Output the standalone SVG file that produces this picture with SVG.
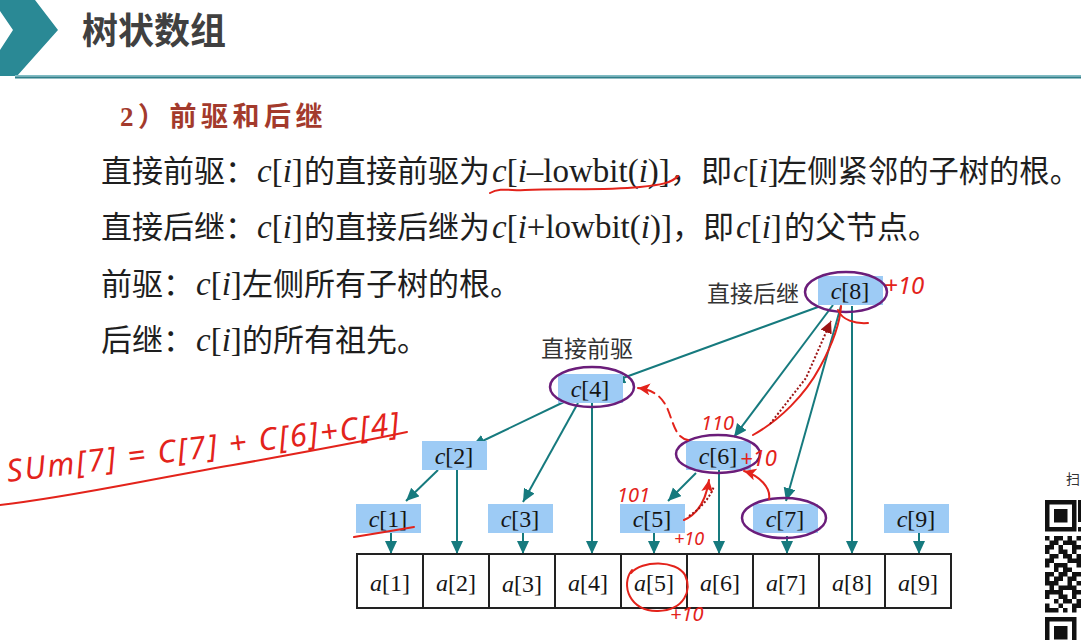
<svg xmlns="http://www.w3.org/2000/svg" width="1081" height="640" viewBox="0 0 1081 640">
  <style>
    .title { font-family: 'Noto Sans CJK SC', sans-serif; font-size: 36px; font-weight: bold; fill: #404040; }
    .sub { font-family: 'Liberation Serif', 'Noto Sans CJK SC', serif; font-size: 27px; font-weight: bold; fill: #a33a2c; letter-spacing: 4.5px; }
    .body { font-family: 'Liberation Serif', 'Noto Sans CJK SC', serif; font-size: 31px; fill: #1e1e1e; }
    .l { font-size: 33px; }
    .it { font-style: italic; }
    .tag { font-family: 'Noto Sans CJK SC', sans-serif; font-size: 23px; fill: #333; }
    .nbox { fill: #9dcbf5; }
    .ring { fill: none; stroke: #6b1d7a; stroke-width: 2.5; }
    .nl { font-family: 'Liberation Serif', serif; font-size: 24px; fill: #151515; text-anchor: middle; }
    .edge { stroke: #167a7e; stroke-width: 2; fill: none; marker-end: url(#ah); }
    .cell { fill: #fff; stroke: #222; stroke-width: 2; }
    .ink { fill: none; stroke: #e3231b; stroke-width: 2; stroke-linecap: round; }
    .inkt { font-family: 'Noto Sans', sans-serif; font-style: italic; fill: #e3231b; }
  </style>
  <defs>
    <marker id="ah" markerUnits="userSpaceOnUse" markerWidth="14" markerHeight="14" refX="13" refY="6" orient="auto">
      <path d="M0,0 L13,6 L0,12 z" fill="#167a7e"/>
    </marker>
    <marker id="rh" markerUnits="userSpaceOnUse" markerWidth="14" markerHeight="14" refX="12" refY="6" orient="auto">
      <path d="M0,0 L12,6 L0,12 L3,6 z" fill="#e3231b"/>
    </marker>
    <marker id="dh" markerUnits="userSpaceOnUse" markerWidth="14" markerHeight="14" refX="12" refY="6" orient="auto">
      <path d="M0,0 L12,6 L0,12 z" fill="#9b1414"/>
    </marker>
  </defs>

  <rect width="1081" height="640" fill="#fff"/>

  <!-- header band -->
  <g id="header">
    <polygon points="0,0 35,0 58,30 17,76 0,76 0,50 13,30 0,11" fill="#2a8995"/>
    <rect x="15" y="75" width="1066" height="1.5" fill="#7fbcc4"/>
    <rect x="15" y="76.5" width="1066" height="2" fill="#2f7f8a"/>
    <text class="title" x="82" y="44">树状数组</text>
  </g>

  <!-- definitions -->
  <g id="definitions">
    <text class="sub" x="120" y="126">2）前驱和后继</text>
    <text class="body" y="182"><tspan x="101">直接前驱：</tspan><tspan x="257" class="l"><tspan class="it">c</tspan>[<tspan class="it">i</tspan>]</tspan><tspan x="304">的直接前驱为</tspan><tspan x="492" class="l"><tspan class="it">c</tspan>[<tspan class="it">i</tspan>–lowbit(<tspan class="it">i</tspan>)]</tspan><tspan x="670">，即</tspan><tspan x="733" class="l"><tspan class="it">c</tspan>[<tspan class="it">i</tspan>]</tspan><tspan x="777" font-size="30.3">左侧紧邻的子树的根。</tspan></text>
    <text class="body" y="238"><tspan x="101">直接后继：</tspan><tspan x="257" class="l"><tspan class="it">c</tspan>[<tspan class="it">i</tspan>]</tspan><tspan x="304">的直接后继为</tspan><tspan x="492" class="l"><tspan class="it">c</tspan>[<tspan class="it">i</tspan>+lowbit(<tspan class="it">i</tspan>)]</tspan><tspan x="672">，即</tspan><tspan x="736" class="l"><tspan class="it">c</tspan>[<tspan class="it">i</tspan>]</tspan><tspan x="784">的父节点。</tspan></text>
    <text class="body" y="295"><tspan x="101">前驱：</tspan><tspan x="196" class="l"><tspan class="it">c</tspan>[<tspan class="it">i</tspan>]</tspan><tspan x="242">左侧所有子树的根。</tspan></text>
    <text class="body" y="351"><tspan x="101">后继：</tspan><tspan x="196" class="l"><tspan class="it">c</tspan>[<tspan class="it">i</tspan>]</tspan><tspan x="242">的所有祖先。</tspan></text>
  </g>

  <!-- tree connectors -->
  <g id="connectors">
    <line class="edge" x1="818" y1="307" x2="612" y2="382"/>
    <line class="edge" x1="833" y1="305" x2="734" y2="437"/>
    <line class="edge" x1="841" y1="306" x2="786" y2="501"/>
    <line class="edge" x1="852" y1="306" x2="852" y2="554"/>
    <line class="edge" x1="566" y1="401" x2="472" y2="446"/>
    <line class="edge" x1="578" y1="403" x2="523" y2="502"/>
    <line class="edge" x1="592" y1="403" x2="592" y2="554"/>
    <line class="edge" x1="438" y1="470" x2="406" y2="501"/>
    <line class="edge" x1="457" y1="470" x2="457" y2="554"/>
    <line class="edge" x1="696" y1="473" x2="668" y2="501"/>
    <line class="edge" x1="719" y1="470" x2="719" y2="554"/>
    <line class="edge" x1="391" y1="533" x2="391" y2="554"/>
    <line class="edge" x1="523" y1="533" x2="523" y2="554"/>
    <line class="edge" x1="654" y1="533" x2="654" y2="554"/>
    <line class="edge" x1="787" y1="536" x2="787" y2="554"/>
    <line class="edge" x1="919" y1="533" x2="919" y2="554"/>
  </g>

  <!-- tree nodes -->
  <g id="node-c8">
    <rect class="nbox" x="818" y="276" width="65" height="29"/>
    <text class="nl" x="850" y="299"><tspan class="it">c</tspan>[8]</text>
    <ellipse class="ring" cx="846" cy="292" rx="41" ry="20"/>
  </g>
  <g id="node-c4">
    <rect class="nbox" x="558" y="374" width="65" height="29"/>
    <text class="nl" x="590" y="397"><tspan class="it">c</tspan>[4]</text>
    <ellipse class="ring" cx="592" cy="387" rx="42" ry="20"/>
  </g>
  <g id="node-c2">
    <rect class="nbox" x="422" y="441" width="65" height="29"/>
    <text class="nl" x="454" y="464"><tspan class="it">c</tspan>[2]</text>
  </g>
  <g id="node-c6">
    <rect class="nbox" x="686" y="441" width="65" height="29"/>
    <text class="nl" x="718" y="464"><tspan class="it">c</tspan>[6]</text>
    <ellipse class="ring" cx="718" cy="454" rx="42" ry="19"/>
  </g>
  <g id="node-c1">
    <rect class="nbox" x="356" y="504" width="65" height="29"/>
    <text class="nl" x="388" y="527"><tspan class="it">c</tspan>[1]</text>
  </g>
  <g id="node-c3">
    <rect class="nbox" x="488" y="504" width="65" height="29"/>
    <text class="nl" x="520" y="527"><tspan class="it">c</tspan>[3]</text>
  </g>
  <g id="node-c5">
    <rect class="nbox" x="620" y="504" width="65" height="29"/>
    <text class="nl" x="652" y="527"><tspan class="it">c</tspan>[5]</text>
  </g>
  <g id="node-c7">
    <rect class="nbox" x="753" y="504" width="65" height="29"/>
    <text class="nl" x="785" y="527"><tspan class="it">c</tspan>[7]</text>
    <ellipse class="ring" cx="784" cy="518" rx="42" ry="20"/>
  </g>
  <g id="node-c9">
    <rect class="nbox" x="884" y="504" width="65" height="29"/>
    <text class="nl" x="916" y="527"><tspan class="it">c</tspan>[9]</text>
  </g>

  <text class="tag" x="707" y="302">直接后继</text>
  <text class="tag" x="541" y="357">直接前驱</text>

  <!-- array a[1..9] -->
  <g id="array">
    <rect class="cell" x="357" y="554" width="594" height="54"/>
    <path d="M423,554v54M489,554v54M555,554v54M621,554v54M687,554v54M753,554v54M819,554v54M885,554v54" stroke="#222" stroke-width="2"/>
    <text class="nl" x="390" y="591"><tspan class="it">a</tspan>[1]</text>
    <text class="nl" x="456" y="591"><tspan class="it">a</tspan>[2]</text>
    <text class="nl" x="522" y="592"><tspan class="it">a</tspan>[3]</text>
    <text class="nl" x="588" y="591"><tspan class="it">a</tspan>[4]</text>
    <text class="nl" x="654" y="591"><tspan class="it">a</tspan>[5]</text>
    <text class="nl" x="720" y="591"><tspan class="it">a</tspan>[6]</text>
    <text class="nl" x="786" y="591"><tspan class="it">a</tspan>[7]</text>
    <text class="nl" x="852" y="591"><tspan class="it">a</tspan>[8]</text>
    <text class="nl" x="918" y="591"><tspan class="it">a</tspan>[9]</text>
  </g>

  <!-- red pen notes -->
  <g id="pen-notes">
    <path class="ink" d="M490,193 C500,187 512,191 525,190 C560,188 600,191 640,187 C660,185 672,183 678,176"/>
    <text class="inkt" x="8" y="482" font-size="31" transform="rotate(-7 8 482)" textLength="395" lengthAdjust="spacing">SUm[7] = C[7] + C[6]+C[4]</text>
    <path class="ink" d="M0,505 C70,497 130,483 233,465 C300,453 360,442 407,432"/>
    <path class="ink" d="M354,537 Q385,532 414,527"/>

    <text class="inkt" x="884" y="294" font-size="24">+10</text>
    <path class="ink" d="M838,310 C842,320 855,324 868,323"/>
    <path class="ink" d="M753,435 C780,420 805,395 820,367 C832,345 840,325 841,306"/>
    <path d="M770,424 L806,378 L831,321" fill="none" stroke="#9b1414" stroke-width="2" stroke-dasharray="2 2" marker-end="url(#dh)"/>

    <path class="ink" d="M688,440 C676,438 674,425 668,410 C663,398 655,390 638,388" stroke-dasharray="9 6" marker-end="url(#rh)"/>
    <text class="inkt" x="701" y="430" font-size="20">110</text>
    <text class="inkt" x="740" y="466" font-size="22">+10</text>

    <path class="ink" d="M769,499 C771,488 760,476 744,471" marker-end="url(#rh)"/>
    <path class="ink" d="M684,520 C698,514 706,500 709,480" marker-end="url(#rh)"/>
    <path d="M689,516 C701,508 710,498 714,486" fill="none" stroke="#9b1414" stroke-width="2" stroke-dasharray="2 2"/>
    <text class="inkt" x="617" y="502" font-size="20">101</text>
    <text class="inkt" x="674" y="545" font-size="18">+10</text>

    <path class="ink" d="M632,570 C620,585 630,612 658,611 C685,610 692,590 685,575 C676,560 642,560 631,573"/>
    <text class="inkt" x="670" y="621" font-size="20">+10</text>
  </g>

  <!-- scan code corner -->
  <g id="qr">
    <text x="1066" y="484" font-family="'Noto Sans CJK SC', sans-serif" font-size="14" fill="#333">扫</text>
    <path fill-rule="evenodd" fill="#111" d="M1045,500h31.5v31.5h-31.5z M1049.5,504.5v22.5h22.5v-22.5z M1054,509h13.5v13.5h-13.5z M1045,617h31.5v31.5h-31.5z M1049.5,621.5v22.5h22.5v-22.5z M1054,626h13.5v13.5h-13.5z"/>
    <path fill="#111" d="M1078,500h3v22h-3z M1078,527h3v4.5h-3z
      M1045,536h4.5v4.5h-4.5z M1054,536h9v4.5h-9z M1067.5,536h4.5v4.5h-4.5z M1076.5,536h4.5v4.5h-4.5z
      M1049.5,540.5h9v4.5h-9z M1063,540.5h13.5v4.5h-13.5z
      M1045,545h9v4.5h-9z M1058.5,545h4.5v4.5h-4.5z M1072,545h9v4.5h-9z
      M1045,549.5h4.5v4.5h-4.5z M1058.5,549.5h9v4.5h-9z M1072,549.5h4.5v4.5h-4.5z
      M1049.5,554h9v4.5h-9z M1063,554h9v4.5h-9z M1076.5,554h4.5v4.5h-4.5z
      M1045,558.5h9v4.5h-9z M1067.5,558.5h13.5v4.5h-13.5z
      M1045,563h4.5v4.5h-4.5z M1054,563h13.5v4.5h-13.5z M1076.5,563h4.5v4.5h-4.5z
      M1054,567.5h4.5v4.5h-4.5z M1063,567.5h9v4.5h-9z
      M1045,572h9v4.5h-9z M1058.5,572h9v4.5h-9z M1072,572h9v4.5h-9z
      M1045,576.5h4.5v4.5h-4.5z M1054,576.5h9v4.5h-9z M1067.5,576.5h9v4.5h-9z
      M1045,581h13.5v4.5h-13.5z M1067.5,581h4.5v4.5h-4.5z M1076.5,581h4.5v4.5h-4.5z
      M1049.5,585.5h4.5v4.5h-4.5z M1058.5,585.5h18v4.5h-18z
      M1045,590h18v4.5h-18z M1072,590h9v4.5h-9z
      M1045,594.5h4.5v4.5h-4.5z M1058.5,594.5h9v4.5h-9z M1072,594.5h4.5v4.5h-4.5z
      M1054,599h4.5v4.5h-4.5z M1063,599h9v4.5h-9z M1076.5,599h4.5v4.5h-4.5z
      M1045,603.5h4.5v4.5h-4.5z M1058.5,603.5h4.5v4.5h-4.5z M1072,603.5h9v4.5h-9z
      M1045,608h13.5v4.5h-13.5z M1063,608h4.5v4.5h-4.5z M1072,608h4.5v4.5h-4.5z"/>
  </g>
</svg>
